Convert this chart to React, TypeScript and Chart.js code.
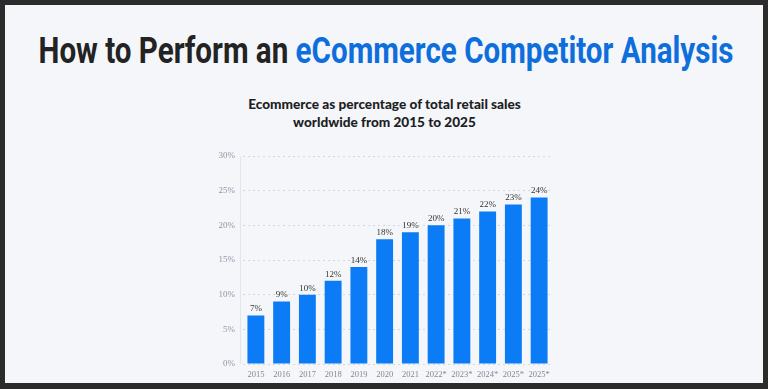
import React, { useEffect, useLayoutEffect, useRef } from "react";
import { Chart, registerables } from "chart.js";

Chart.register(...registerables);

const titleDark = "How to Perform an ";
const titleBlue = "eCommerce Competitor Analysis";
const subtitleLines = ["Ecommerce as percentage of total retail sales", "worldwide from 2015 to 2025"];
const categories = ["2015", "2016", "2017", "2018", "2019", "2020", "2021", "2022*", "2023*", "2024*", "2025*", "2025*"];
const values = [7, 9, 10, 12, 14, 18, 19, 20, 21, 22, 23, 24];
const yMin = 0;
const yMax = 30;
const yStep = 5;

const barColor = "#0b7cf5";

const labelPlugin = {
  id: "barLabels",
  afterDatasetsDraw(chart: any) {
    const ctx = chart.ctx;
    const meta = chart.getDatasetMeta(0);
    ctx.save();
    ctx.font = "9px 'Liberation Serif', serif";
    ctx.fillStyle = "#333333";
    ctx.textAlign = "center";
    ctx.textBaseline = "bottom";
    meta.data.forEach((bar: any, i: number) => {
      ctx.fillText(values[i] + "%", bar.x, bar.y - 2);
    });
    ctx.restore();
  },
  beforeDatasetsDraw(chart: any) {
    const { ctx, chartArea } = chart;
    ctx.save();
    ctx.strokeStyle = "#e2e5ea";
    ctx.lineWidth = 1;
    ctx.beginPath();
    ctx.moveTo(chartArea.left - 2.5, chartArea.top);
    ctx.lineTo(chartArea.left - 2.5, chartArea.bottom);
    ctx.stroke();
    ctx.restore();
  },
};

function BarChart() {
  const ref = useRef<HTMLCanvasElement>(null);
  useEffect(() => {
    if (!ref.current) return;
    const chart = new Chart(ref.current, {
      type: "bar",
      data: {
        labels: categories,
        datasets: [
          {
            data: values,
            backgroundColor: barColor,
            barPercentage: 0.82,
            categoryPercentage: 0.8,
          },
        ],
      },
      options: {
        responsive: false,
        animation: false,
        devicePixelRatio: 1,
        layout: { padding: { top: 16, right: 28, bottom: 0, left: 0 } },
        plugins: { legend: { display: false }, tooltip: { enabled: false }, title: { display: false } },
        scales: {
          x: {
            grid: { display: false, drawTicks: false },
            border: { display: false },
            ticks: {
              color: "#7f8896",
              font: { family: "'Liberation Serif', serif", size: 8.5 },
              padding: 6,
              maxRotation: 0,
              autoSkip: false,
            },
            afterFit(scale: any) {
              scale.height = 25;
            },
          },
          y: {
            min: yMin,
            max: yMax,
            grid: { color: "#d3d8df", drawTicks: false, lineWidth: 1 },
            border: { display: false, dash: [2, 3] },
            ticks: {
              stepSize: yStep,
              color: "#8c96a6",
              font: { family: "'Liberation Serif', serif", size: 9 },
              padding: 8,
              callback: (v: any) => v + "%",
            },
            afterFit(scale: any) {
              scale.width = 63;
            },
          },
        },
      },
      plugins: [labelPlugin],
    });
    return () => chart.destroy();
  }, []);
  return <canvas ref={ref} width={400} height={249} style={{ display: "block", width: 400, height: 249 }} />;
}

export default function App() {
  const titleRef = useRef<HTMLDivElement>(null);
  useLayoutEffect(() => {
    const el = titleRef.current;
    if (!el) return;
    const w = el.offsetWidth;
    const s = 695 / w;
    el.style.transform = `translateX(-50%) scaleX(${s})`;
  }, []);
  return (
    <div style={{ position: "fixed", left: 0, top: 0, width: 768, height: 389, background: "#2b2b2b", overflow: "hidden" }}>
      <div style={{ position: "absolute", left: 5, top: 5, width: 758, height: 378, background: "#f5f6fa" }} />
      <div
        ref={titleRef}
        style={{
          position: "absolute",
          left: 385.5,
          top: 32.6,
          whiteSpace: "nowrap",
          fontFamily: "Roboto, sans-serif",
          fontWeight: 700,
          fontSize: 36,
          lineHeight: "36px",
          color: "#232323",
          transformOrigin: "50% 50%",
        }}
      >
        {titleDark}
        <span style={{ color: "#0e6fdc" }}>{titleBlue}</span>
      </div>
      <div
        style={{
          position: "absolute",
          left: 0,
          width: 769,
          top: 96,
          textAlign: "center",
          fontFamily: "Lato, sans-serif",
          fontWeight: 900,
          fontSize: 13.6,
          lineHeight: "17.5px",
          color: "#1e1f24",
        }}
      >
        {subtitleLines.map((l, i) => (
          <div key={i}>{l}</div>
        ))}
      </div>
      <div style={{ position: "absolute", left: 180, top: 140, width: 400, height: 249 }}>
        <BarChart />
      </div>
    </div>
  );
}
